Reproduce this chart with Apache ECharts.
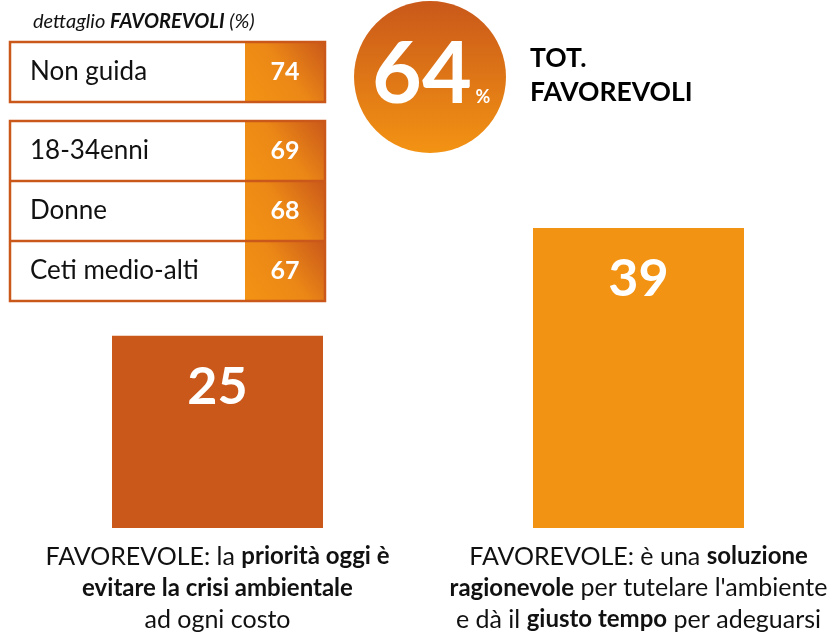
<!DOCTYPE html>
<html>
<head>
<meta charset="utf-8">
<script src="https://cdn.jsdelivr.net/npm/echarts@6/dist/echarts.min.js"></script>
<style>html,body{margin:0;padding:0;background:#fff}#c{width:839px;height:637px}</style>
</head>
<body>
<div id="c"></div>
<script>
// ---- data ----
const categories = ['priorita', 'ragionevole'];
const categoryLabels = [
  '{n|FAVOREVOLE: la }{b|priorità oggi è}\n{b|evitare la crisi ambientale}\n{n|ad ogni costo}',
  '{n|FAVOREVOLE: è una }{b|soluzione}\n{b|ragionevole}{n| per tutelare l\'ambiente}\n{n|e dà il }{b|giusto tempo}{n| per adeguarsi}'
];
const barValues = [25, 39];
const barColors = ['#C9581A', '#F39313'];
const detailTitle = '{i|dettaglio }{ib|FAVOREVOLI}{i| (%)}';
const detailLabels = ['Non guida', '18-34enni', 'Donne', 'Ceti medio-alti'];
const detailValues = [74, 69, 68, 67];
const totalValue = 64;
const totalLabel = ['TOT.', 'FAVOREVOLI'];

// ---- chart ----
const FONT = 'Lato';
const DARK = '#C9581A', LIGHT = '#F39313';
const chart = echarts.init(document.getElementById('c'));

const graphics = [];
// title of detail table
graphics.push({
  type: 'text', x: 33, y: 22,
  style: {
    text: detailTitle, verticalAlign: 'middle',
    rich: {
      i: { fontFamily: FONT, fontStyle: 'italic', fontSize: 20, fill: '#111' },
      ib: { fontFamily: FONT, fontStyle: 'italic', fontWeight: 'bold', fontSize: 20, fill: '#111' }
    }
  }
});
// table groups: first row alone, then three rows
const groups = [[0], [1, 2, 3]];
const groupTop = [42, 121];
const rowH = 60;
const tblX = 10, tblW = 315, valX = 245;
groups.forEach((g, gi) => {
  const top = groupTop[gi];
  g.forEach((idx, r) => {
    const y = top + r * rowH;
    graphics.push({
      type: 'rect', shape: { x: valX, y: y, width: tblX + tblW - valX, height: rowH },
      style: { fill: new echarts.graphic.LinearGradient(0, 1, 1, 0, [
        { offset: 0, color: LIGHT }, { offset: 0.5, color: '#EC8816' }, { offset: 1, color: DARK }]) }
    });
    graphics.push({
      type: 'text', x: 30, y: y + rowH / 2,
      style: { text: detailLabels[idx], fontFamily: FONT, fontSize: 26, fill: '#111', verticalAlign: 'middle' }
    });
    graphics.push({
      type: 'text', x: (valX + tblX + tblW) / 2, y: y + rowH / 2,
      style: { text: String(detailValues[idx]), fontFamily: FONT, fontWeight: 'bold', fontSize: 25, fill: '#fff',
        align: 'center', verticalAlign: 'middle' }
    });
    if (r > 0) {
      graphics.push({ type: 'line', shape: { x1: tblX, y1: y, x2: tblX + tblW, y2: y },
        style: { stroke: DARK, lineWidth: 2.5 } });
    }
  });
  graphics.push({
    type: 'rect', shape: { x: tblX, y: top, width: tblW, height: g.length * rowH },
    style: { fill: 'none', stroke: DARK, lineWidth: 2.5 }
  });
});
// total circle
graphics.push({
  type: 'circle', shape: { cx: 430, cy: 77, r: 76 },
  style: { fill: new echarts.graphic.LinearGradient(0, 0, 0, 1, [
    { offset: 0, color: DARK }, { offset: 1, color: LIGHT }]) }
});
graphics.push({
  type: 'text', x: 422, y: 75,
  style: { text: String(totalValue), fontFamily: FONT, fontWeight: 'bold', fontSize: 86, fill: '#fff',
    align: 'center', verticalAlign: 'middle' }
});
graphics.push({
  type: 'text', x: 483, y: 97,
  style: { text: '%', fontFamily: FONT, fontWeight: 'bold', fontSize: 18, fill: '#fff',
    align: 'center', verticalAlign: 'middle' }
});
totalLabel.forEach((t, i) => {
  graphics.push({
    type: 'text', x: 530, y: 58 + i * 34,
    style: { text: t, fontFamily: FONT, fontWeight: 'bold', fontSize: 26.5, fill: '#000', verticalAlign: 'middle' }
  });
});

chart.setOption({
  animation: false,
  grid: { left: 217.5, right: 200.5, bottom: 109, top: 143.5 },
  xAxis: {
    type: 'category', data: categories, boundaryGap: false,
    axisLine: { show: false }, axisTick: { show: false },
    axisLabel: {
      interval: 0, margin: 13,
      formatter: (v, i) => categoryLabels[i],
      rich: {
        n: { fontFamily: FONT, fontSize: 25, color: '#111', lineHeight: 31.5 },
        b: { fontFamily: FONT, fontSize: 24, fontWeight: 'bold', color: '#111', lineHeight: 31.5 }
      }
    }
  },
  yAxis: { type: 'value', min: 0, max: 50, show: false, splitLine: { show: false } },
  series: [{
    type: 'bar', barWidth: 211,
    data: barValues.map((v, i) => ({ value: v, itemStyle: { color: barColors[i] } })),
    label: {
      show: true, position: 'insideTop', distance: 25,
      fontFamily: FONT, fontWeight: 'bold', fontSize: 52, color: '#fff'
    }
  }],
  graphic: graphics
});
</script>
</body>
</html>
